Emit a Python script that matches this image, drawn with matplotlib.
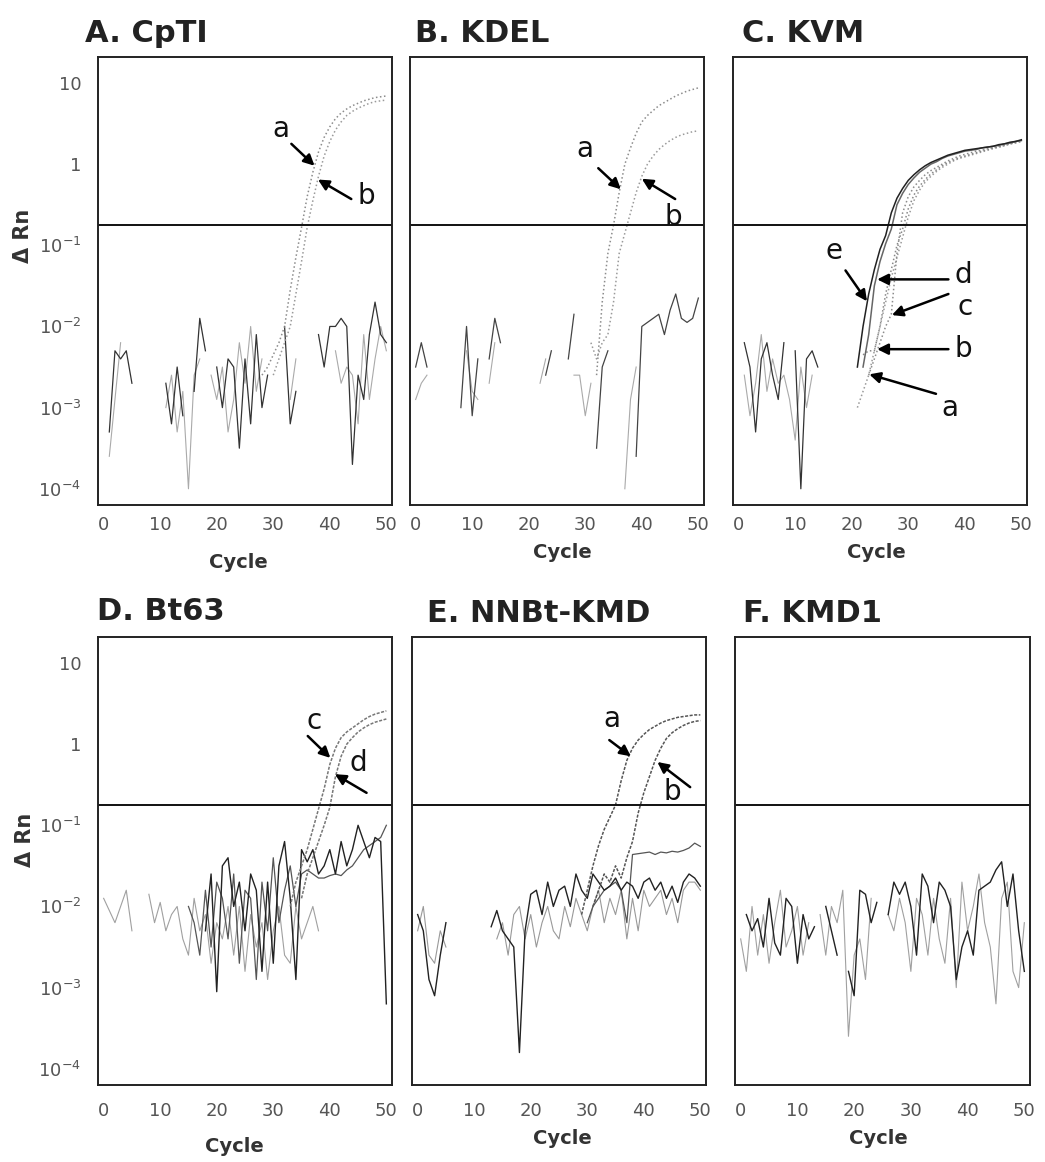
import numpy as np
import matplotlib
matplotlib.use('Agg')
import matplotlib.pyplot as plt
from matplotlib.ticker import NullLocator

plt.rcParams['font.family'] = 'DejaVu Sans'
plt.rcParams['mathtext.default'] = 'regular'

# values are log10(delta Rn) per cycle (0..50); None = below zero / not drawn
cycles = np.arange(51)
threshold_log = -0.75

# amplification curves: values run up to cycle 50
cpti_a = [-2.6, -2.5, -2.35, -2.2, -2.0, -1.55, -1.15, -0.78, -0.4, -0.1, 0.15, 0.33, 0.46,
          0.56, 0.63, 0.68, 0.72, 0.75, 0.78, 0.8, 0.82, 0.83, 0.84]
cpti_b = [-2.6, -2.4, -2.2, -2.0, -1.6, -1.2, -0.78, -0.45, -0.15, 0.1, 0.28, 0.42, 0.52,
          0.6, 0.65, 0.69, 0.72, 0.75, 0.77, 0.78, 0.79]
kdel_a = [-2.6, -1.7, -1.1, -0.75, -0.35, 0.0, 0.2, 0.38, 0.52, 0.6, 0.66, 0.72, 0.76, 0.8,
          0.84, 0.87, 0.9, 0.92, 0.94]
kdel_b = [-2.2, -2.4, -2.2, -2.1, -1.7, -1.1, -0.85, -0.6, -0.35, -0.15, 0.0, 0.1, 0.18,
          0.24, 0.29, 0.33, 0.36, 0.38, 0.4, 0.41]
kvm_e = [-2.5, -2.0, -1.6, -1.3, -1.05, -0.88, -0.6, -0.42, -0.3, -0.2, -0.13, -0.07, -0.02,
         0.02, 0.05, 0.08, 0.11, 0.13, 0.15, 0.17, 0.18, 0.19, 0.2, 0.21, 0.22, 0.24, 0.25,
         0.27, 0.28, 0.3]
kvm_d = [-2.5, -2.1, -1.5, -1.2, -0.98, -0.8, -0.5, -0.36, -0.25, -0.17, -0.1, -0.05, 0.0,
         0.03, 0.07, 0.1, 0.12, 0.14, 0.16, 0.17, 0.18, 0.2, 0.21, 0.22, 0.23, 0.25, 0.26,
         0.28, 0.29]
kvm_c = [-2.6, -2.4, -2.2, -2.0, -1.85, -1.1, -0.6, -0.4, -0.28, -0.2, -0.13, -0.08, -0.04,
         0.0, 0.04, 0.07, 0.1, 0.12, 0.14, 0.16, 0.17, 0.19, 0.2, 0.22, 0.23, 0.25, 0.27, 0.29]
kvm_b = [-2.35, -2.3, -2.3, -2.0, -1.6, -1.3, -1.0, -0.8, -0.55, -0.38, -0.27, -0.19, -0.12,
         -0.07, -0.02, 0.02, 0.05, 0.08, 0.1, 0.12, 0.14, 0.16, 0.18, 0.2, 0.21, 0.23, 0.25,
         0.27, 0.28]
kvm_a = [-3.0, -2.8, -2.6, -2.3, -2.0, -1.7, -1.4, -1.15, -0.9, -0.65, -0.45, -0.32, -0.22,
         -0.15, -0.09, -0.04, 0.0, 0.04, 0.07, 0.09, 0.11, 0.13, 0.15, 0.17, 0.19, 0.21, 0.23,
         0.25, 0.26, 0.28]
bt63_c = [-2.0, -1.7, -1.5, -1.3, -1.05, -0.8, -0.55, -0.25, -0.05, 0.08, 0.15, 0.2, 0.25,
          0.3, 0.34, 0.37, 0.39, 0.41]
bt63_d = [-1.9, -1.6, -1.4, -1.2, -1.0, -0.78, -0.4, -0.15, 0.0, 0.08, 0.15, 0.2, 0.24,
          0.27, 0.29, 0.31]
nnbt_a = [-2.1, -1.8, -1.5, -1.25, -1.05, -0.9, -0.75, -0.45, -0.2, -0.05, 0.05, 0.12, 0.18,
          0.22, 0.26, 0.29, 0.31, 0.33, 0.34, 0.35, 0.36, 0.36]
nnbt_b = [-2.0, -1.8, -1.6, -1.7, -1.5, -1.65, -1.4, -1.2, -0.85, -0.6, -0.4, -0.2, -0.05,
          0.07, 0.14, 0.19, 0.23, 0.26, 0.28, 0.29]

# background traces, one value per cycle 0..50
cpti_noise1 = [None, -3.3, -2.3, -2.4, -2.3, -2.7, None, None, None, None,
               None, -2.7, -3.2, -2.5, -3.1, None, -2.8, -1.9, -2.3, None,
               -2.5, -3.0, -2.4, -2.5, -3.5, -2.4, -3.2, -2.1, -3.0, -2.6,
               None, None, -2.0, -3.2, -2.8, None, None, None, -2.1, -2.5,
               -2.0, -2.0, -1.9, -2.0, -3.7, -2.6, -2.9, -2.1, -1.7, -2.1,
               -2.2]
cpti_noise2 = [None, -3.6, -2.9, -2.2, None, None, None, None, None, None,
               None, -3.0, -2.6, -3.3, -2.8, -4.0, -2.6, -2.4, None, -2.6,
               -2.9, -2.5, -3.3, -2.9, -2.2, -2.7, -2.0, -2.8, -2.4, None,
               None, None, None, -2.9, -2.4, None, None, None, None, None,
               None, -2.3, -2.7, -2.5, -2.6, -3.2, -2.1, -2.9, -2.4, -2.0,
               -2.3]
kdel_noise1 = [-2.5, -2.2, -2.5, None, -2.7, None, None, None, -3.0, -2.0,
               -3.1, -2.4, None, -2.4, -1.9, -2.2, None, None, None, None,
               None, None, None, -2.6, -2.3, None, None, -2.4, -1.85, None,
               None, None, -3.5, -2.5, -2.3, None, None, None, None, -3.6,
               -2.0, -1.95, -1.9, -1.85, -2.1, -1.8, -1.6, -1.9, -1.95, -1.9,
               -1.65]
kdel_noise2 = [-2.9, -2.7, -2.6, None, None, None, None, None, None, -2.3,
               -2.8, -2.9, None, -2.7, -2.2, None, None, None, None, None,
               None, None, -2.7, -2.4, None, None, None, None, -2.6, -2.6,
               -3.1, -2.7, None, None, None, None, None, -4.0, -2.9, -2.5,
               None, None, None, None, None, None, None, None, None, None,
               None]
kvm_noise1 = [None, -2.2, -2.5, -3.3, -2.4, -2.2, -2.6, -2.9, -2.2, None,
              -2.3, -4.0, -2.4, -2.3, -2.5, None, None, None, None, None,
              None, None, None, None, None, None, None, None, None, None,
              None, None, None, None, None, None, None, None, None, None,
              None, None, None, None, None, None, None, None, None, None,
              None]
kvm_noise2 = [None, -2.6, -3.1, -2.7, -2.1, -2.8, -2.4, -2.7, -2.6, -2.9,
              -3.4, -2.5, -3.0, -2.6, None, None, None, None, None, None,
              None, None, None, None, None, None, None, None, None, None,
              None, None, None, None, None, None, None, None, None, None,
              None, None, None, None, None, None, None, None, None, None,
              None]
bt63_noise1 = [None, None, None, None, None, None, None, None, None, None,
               None, None, None, None, None, None, None, None, -2.3, -1.6,
               -3.05, -1.5, -1.4, -2.0, -1.7, -2.3, -1.6, -1.8, -2.8, -1.7,
               -2.7, -1.5, -1.2, -1.9, -2.9, -1.3, -1.45, -1.3, -1.6, -1.5,
               -1.3, -1.6, -1.2, -1.5, -1.3, -1.0, -1.2, -1.4, -1.15, -1.2,
               -3.2]
bt63_noise2 = [None, None, None, None, None, None, None, None, None, None,
               None, None, None, None, None, -2.0, -2.2, -2.6, -1.8, -2.5,
               -1.7, -1.9, -2.4, -1.6, -2.7, -1.8, -1.9, -2.9, -1.7, -2.3,
               -1.4, -2.2, -1.8, -1.5, -2.0, -1.6, -1.55, -1.6, -1.65, -1.65,
               -1.62, -1.6, -1.62, -1.55, -1.5, -1.4, -1.3, -1.25, -1.2, -1.15,
               -1.0]
bt63_noise3 = [-1.9, -2.05, -2.2, -2.0, -1.8, -2.3, None, None, -1.85, -2.2,
               -1.95, -2.3, -2.1, -2.0, -2.4, -2.6, -1.9, -2.3, -2.1, -2.7,
               -2.2, -2.4, -2.0, -2.6, -2.0, -2.8, -2.1, -2.5, -2.2, -2.9,
               -2.3, -2.0, -2.6, -2.7, -2.0, -2.4, -2.2, -2.0, -2.3, None,
               None, None, None, None, None, None, None, None, None, None,
               None]
nnbt_noise1 = [None, None, None, None, None, None, None, None, None, None,
               None, None, None, None, None, None, None, None, None, None,
               None, None, None, None, None, None, None, None, None, None,
               -2.2, -2.0, -1.9, -1.8, -1.75, -1.7, -1.8, -2.2, -1.36, -1.35,
               -1.34, -1.33, -1.36, -1.33, -1.34, -1.32, -1.33, -1.31, -1.28, -1.22,
               -1.26]
nnbt_noise2 = [-2.1, -2.3, -2.9, -3.1, -2.6, -2.2, None, -2.5, None, None,
               None, None, None, -2.25, -2.05, -2.3, -2.4, -2.5, -3.8, -2.3,
               -1.85, -1.8, -2.1, -1.7, -2.0, -1.8, -1.75, -2.0, -1.6, -1.8,
               -1.9, -1.6, -1.7, -1.8, -1.75, -1.65, -1.8, -1.7, -1.75, -1.9,
               -1.7, -1.65, -1.8, -1.7, -1.9, -1.75, -1.95, -1.7, -1.6, -1.65,
               -1.75]
nnbt_noise3 = [-2.3, -2.0, -2.6, -2.7, -2.3, -2.5, None, None, None, None,
               None, None, None, None, -2.4, -2.2, -2.6, -2.1, -2.0, -2.4,
               -2.1, -2.5, -2.2, -2.0, -2.3, -2.4, -2.0, -2.25, -1.9, -2.1,
               -2.3, -2.0, -1.8, -2.2, -1.9, -2.1, -1.8, -2.4, -1.9, -2.3,
               -1.8, -2.0, -1.9, -1.8, -2.1, -1.9, -2.2, -1.8, -1.7, -1.7,
               -1.8]
kmd1_noise1 = [None, -2.1, -2.3, -2.15, -2.5, -1.9, -2.45, -2.6, -1.9, -2.0,
               -2.7, -2.1, -2.4, -2.25, None, -2.0, -2.3, -2.6, None, -2.8,
               -3.1, -1.8, -1.85, -2.2, -1.95, None, -2.1, -1.7, -1.85, -1.7,
               -2.0, -2.6, -1.6, -1.75, -2.2, -1.7, -1.8, -2.0, -2.9, -2.5,
               -2.3, -2.6, -1.8, -1.75, -1.7, -1.55, -1.45, -2.0, -1.6, -2.3,
               -2.8]
kmd1_noise2 = [-2.4, -2.8, -2.0, -2.6, -2.1, -2.7, -2.2, -1.8, -2.5, -2.3,
               -2.0, -2.6, -2.2, None, -2.1, -2.6, -2.0, -2.2, -1.8, -3.6,
               -2.6, -2.4, -2.9, -1.9, None, None, -2.1, -2.3, -1.9, -2.2,
               -2.8, -1.9, -2.1, -2.6, -1.9, -2.4, -2.7, -1.9, -3.0, -1.7,
               -2.3, -2.0, -1.6, -2.2, -2.5, -3.2, -1.9, -1.7, -2.8, -3.0,
               -2.2]

titles = ['A. CpTI', 'B. KDEL', 'C. KVM', 'D. Bt63', 'E. NNBt-KMD', 'F. KMD1']
ytick_vals = [10, 1, 0.1, 0.01, 0.001, 0.0001]
ytick_labels = ['10', '1', '$10^{-1}$', '$10^{-2}$', '$10^{-3}$', '$10^{-4}$']
xtick_vals = [0, 10, 20, 30, 40, 50]

W, H = 1045, 1162
fig = plt.figure(figsize=(W / 100, H / 100), dpi=100)

# panel boxes in pixels: left, right, top, bottom
boxes = [(98, 392, 57, 505), (410, 704, 57, 505), (733, 1027, 57, 505),
         (98, 392, 637, 1085), (412, 706, 637, 1085), (735, 1030, 637, 1085)]
title_pos = [(85, 33), (415, 33), (742, 33), (97, 612), (427, 614), (743, 613)]
cycle_pos = [(238, 563), (562, 553), (876, 553), (234, 1147), (562, 1138), (878, 1139)]

amp_sets = [
    [(cpti_a, '#8c8c8c', ':'), (cpti_b, '#9a9a9a', ':')],
    [(kdel_a, '#8c8c8c', ':'), (kdel_b, '#9a9a9a', ':')],
    [(kvm_a, '#9a9a9a', ':'), (kvm_b, '#888888', ':'), (kvm_c, '#8c8c8c', ':'),
     (kvm_d, '#666666', '-'), (kvm_e, '#222222', '-')],
    [(bt63_c, '#777777', (0, (2, 1))), (bt63_d, '#777777', (0, (2, 1)))],
    [(nnbt_a, '#555555', (0, (2, 1))), (nnbt_b, '#555555', (0, (2, 1)))],
    [],
]
noise_sets = [
    [(cpti_noise2, '#aaaaaa', 0.8), (cpti_noise1, '#333333', 0.9)],
    [(kdel_noise2, '#aaaaaa', 0.8), (kdel_noise1, '#444444', 0.9)],
    [(kvm_noise2, '#aaaaaa', 0.8), (kvm_noise1, '#333333', 0.9)],
    [(bt63_noise3, '#a0a0a0', 0.8), (bt63_noise2, '#555555', 0.9), (bt63_noise1, '#222222', 1.0)],
    [(nnbt_noise3, '#999999', 0.8), (nnbt_noise1, '#555555', 0.9), (nnbt_noise2, '#222222', 1.0)],
    [(kmd1_noise2, '#a0a0a0', 0.8), (kmd1_noise1, '#222222', 1.0)],
]

arrow_kw = dict(arrowstyle='-|>', color='black', lw=1.8, mutation_scale=16,
                shrinkA=0, shrinkB=0)
# (letter, text pos, arrow tail, arrow head) in (cycle, log10) units
labels = [
    [('a', (31.4, 0.43), (33.2, 0.25), (37.3, -0.02)),
     ('b', (46.5, -0.39), (43.8, -0.43), (37.9, -0.19))],
    [('a', (29.9, 0.19), (32.3, -0.05), (36.3, -0.31)),
     ('b', (45.5, -0.65), (45.9, -0.43), (40.0, -0.18))],
    [('e', (16.8, -1.07), (18.9, -1.31), (22.7, -1.69)),
     ('d', (39.8, -1.36), (37.1, -1.42), (24.5, -1.42)),
     ('c', (40.1, -1.76), (37.1, -1.6), (27.1, -1.86)),
     ('b', (39.8, -2.28), (37.1, -2.28), (24.5, -2.28)),
     ('a', (37.4, -3.0), (34.9, -2.83), (23.1, -2.59))],
    [('c', (37.3, 0.29), (36.1, 0.10), (40.1, -0.17)),
     ('d', (45.0, -0.23), (46.5, -0.60), (40.9, -0.37))],
    [('a', (34.3, 0.31), (33.9, 0.05), (37.7, -0.15)),
     ('b', (45.0, -0.59), (48.2, -0.53), (42.4, -0.22))],
    [],
]

for i in range(6):
    l, r, t, b = boxes[i]
    ax = fig.add_axes([l / W, 1 - b / H, (r - l) / W, (b - t) / H])
    ax.set_yscale('log')
    ax.set_xlim(-1, 51)
    ax.set_ylim(10 ** -4.2, 10 ** 1.32)

    for vals, col, lw in noise_sets[i]:
        y = 10 ** np.array(vals, dtype=float)
        ax.plot(cycles, y, color=col, lw=lw)
    for vals, col, ls in amp_sets[i]:
        x = cycles[-len(vals):]
        ax.plot(x, 10 ** np.array(vals), color=col, lw=1.1, ls=ls)

    ax.axhline(10 ** threshold_log, color='#111111', lw=1.4)

    for letter, tpos, tail, head in labels[i]:
        ax.annotate('', xy=(head[0], 10 ** head[1]), xytext=(tail[0], 10 ** tail[1]),
                    arrowprops=arrow_kw)
        ax.text(tpos[0], 10 ** tpos[1], letter, fontsize=20, ha='center', va='center',
                color='#111111')

    ax.yaxis.set_minor_locator(NullLocator())
    ax.set_yticks(ytick_vals)
    ax.set_xticks(xtick_vals)
    ax.set_xticklabels([str(v) for v in xtick_vals])
    pad_x = 8 if i < 3 else 12
    ax.tick_params(axis='x', length=0, pad=pad_x, labelsize=13, labelcolor='#555555')
    if i % 3 == 0:
        ax.set_yticklabels(ytick_labels)
        ax.tick_params(axis='y', length=0, pad=12, labelsize=13, labelcolor='#555555')
    else:
        ax.tick_params(axis='y', length=0, labelleft=False)
    for sp in ax.spines.values():
        sp.set_linewidth(1.4)
        sp.set_color('#222222')

    tx, ty = title_pos[i]
    fig.text(tx / W, 1 - ty / H, titles[i], fontsize=22, fontweight='bold',
             ha='left', va='center', color='#222222')
    cx, cy = cycle_pos[i]
    fig.text(cx / W, 1 - cy / H, 'Cycle', fontsize=14, fontweight='bold',
             ha='center', va='center', color='#333333')

fig.text(23 / W, 1 - 236 / H, 'Δ Rn', rotation=90, fontsize=15, fontweight='bold',
         ha='center', va='center', color='#333333')
fig.text(25 / W, 1 - 840 / H, 'Δ Rn', rotation=90, fontsize=15, fontweight='bold',
         ha='center', va='center', color='#333333')

fig.savefig('out.png', dpi=100, facecolor='white')
